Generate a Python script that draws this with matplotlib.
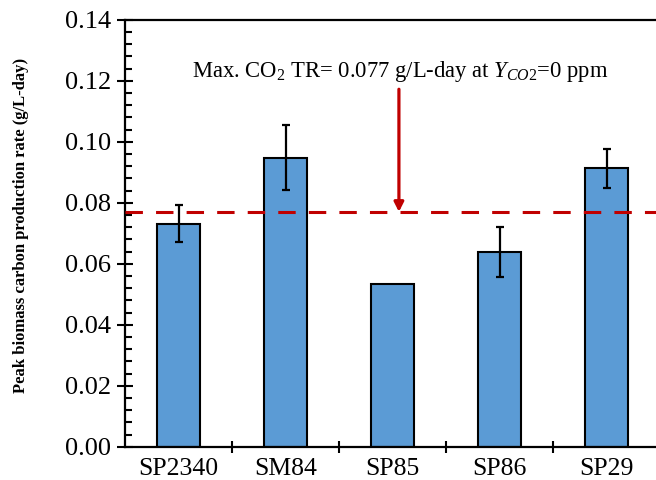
import matplotlib
matplotlib.use("Agg")
import matplotlib.pyplot as plt
from matplotlib.ticker import MultipleLocator

categories = ["SP2340", "SM84", "SP85", "SP86", "SP29"]
values = [0.0731, 0.0948, 0.0535, 0.0639, 0.0913]
errors = [0.0060, 0.0106, 0.0, 0.0081, 0.0064]
max_rate = 0.077
arrow_top = 0.1172

plt.rcParams['font.family'] = ['Liberation Serif', 'DejaVu Serif']
plt.rcParams['mathtext.fontset'] = 'custom'
plt.rcParams['mathtext.rm'] = 'Liberation Serif'
plt.rcParams['mathtext.it'] = 'Liberation Serif:italic'

fig = plt.figure(figsize=(6.56, 4.80), dpi=100)
ax = fig.add_axes([125/656, 33.3/480, 535/656, 427/480])

x = list(range(len(categories)))
ax.bar(x, values, width=0.40, color='#5B9BD5', edgecolor='black', linewidth=1.5, zorder=2)
ax.errorbar(x, values, yerr=[e if e > 0 else float('nan') for e in errors], fmt='none',
            ecolor='black', elinewidth=1.6, capsize=2.6, capthick=1.6, zorder=3)

ax.axhline(max_rate, color='#C00000', linewidth=2.2, linestyle=(0, (5.7, 4.3)), zorder=4)
ax.annotate('', xy=(2.06, max_rate), xytext=(2.06, arrow_top),
            arrowprops=dict(arrowstyle='-|>,head_length=0.55,head_width=0.28',
                            color='#C00000', lw=2.3, shrinkA=0, shrinkB=0), zorder=5)
ax.text(2.067, 0.1213, r'Max. CO$_2$ TR= 0.077 g/L-day at $\mathit{Y}_{\mathit{CO2}}$=0 ppm',
        ha='center', va='baseline', fontsize=16.3)

ax.set_xlim(-0.5, 4.5)
ax.set_ylim(0, 0.14)
ax.yaxis.set_major_locator(MultipleLocator(0.02))
ax.yaxis.set_minor_locator(MultipleLocator(0.004))
ax.set_yticklabels([f"{v:.2f}" for v in ax.get_yticks()])
ax.set_xticks([i + 0.5 for i in range(len(categories) - 1)])
ax.set_xticklabels([])
ax.set_xticks(x, minor=True)
ax.set_xticklabels(categories, minor=True)

ax.tick_params(axis='y', which='major', direction='inout', length=12, width=1.5, labelsize=19, pad=4)
ax.tick_params(axis='y', which='minor', direction='in', length=5, width=1.5)
ax.tick_params(axis='x', which='major', direction='inout', length=8, width=1.5)
ax.tick_params(axis='x', which='minor', length=0, labelsize=18.5, pad=8)

for s in ['left', 'bottom', 'top']:
    ax.spines[s].set_linewidth(1.6)
    ax.spines[s].set_color('black')
ax.spines['right'].set_visible(False)

ax.set_ylabel('Peak biomass carbon production rate (g/L-day)', fontsize=12, fontweight='bold')
ax.yaxis.set_label_coords(-0.18, 0.519)

fig.savefig('out.png', dpi=100)
